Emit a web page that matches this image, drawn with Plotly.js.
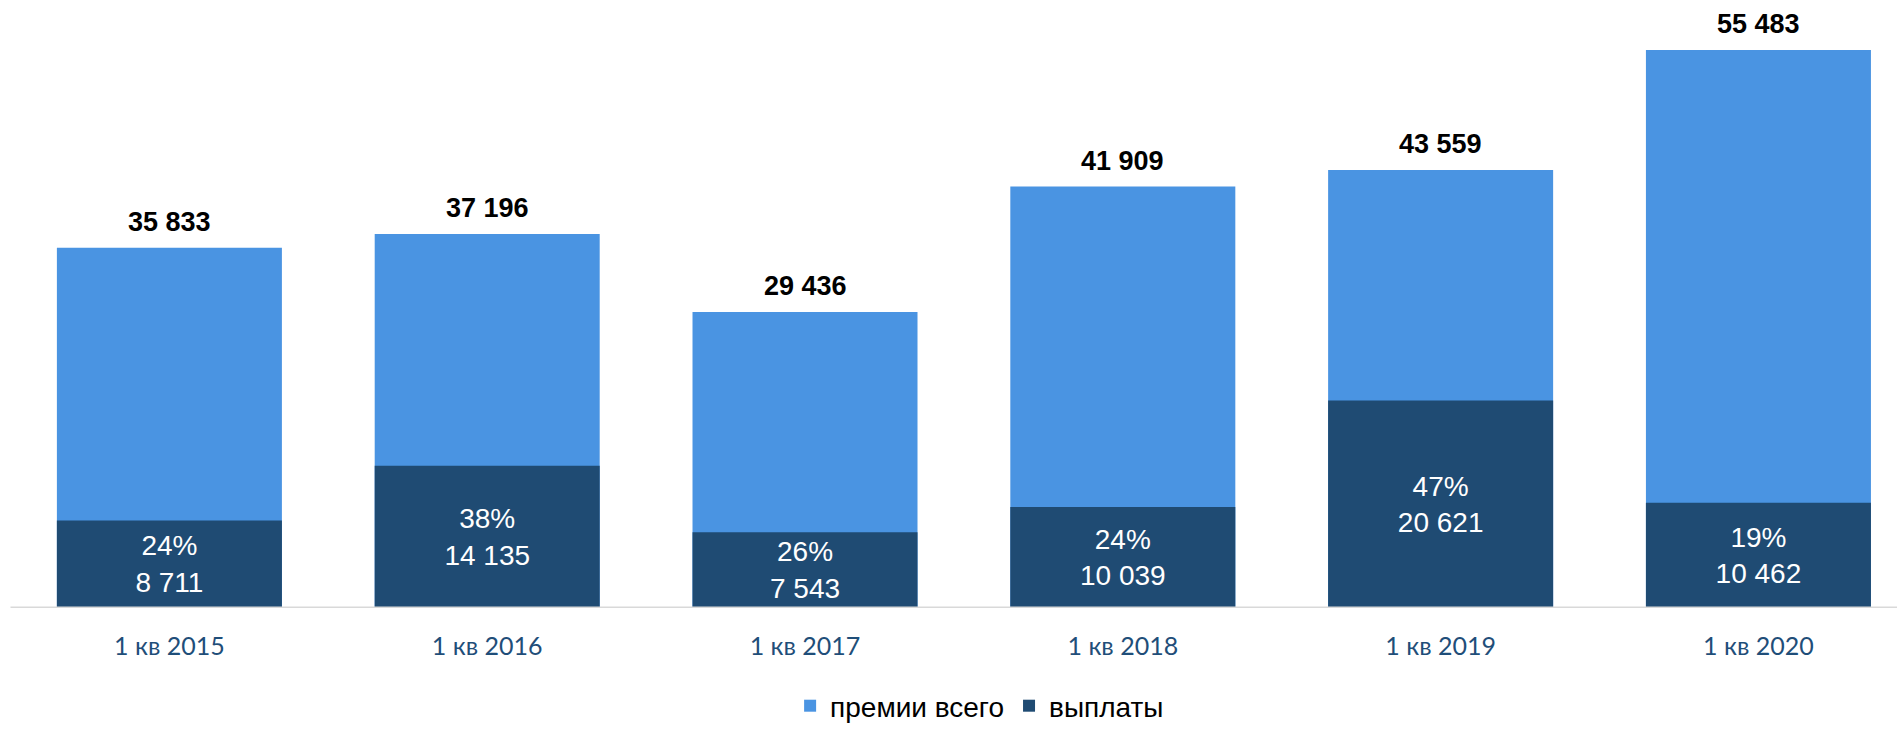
<!DOCTYPE html>
<html>
<head>
<meta charset="utf-8">
<script src="https://cdn.plot.ly/plotly-3.0.1.min.js"></script>
<style>html,body{margin:0;padding:0;background:#fff;}#chart{width:1897px;height:731px;}</style>
</head>
<body>
<div id="chart"></div>
<script>
const categories = ["1 кв 2015", "1 кв 2016", "1 кв 2017", "1 кв 2018", "1 кв 2019", "1 кв 2020"];
const premiums = [35833, 37196, 29436, 41909, 43559, 55483];
const payouts = [8711, 14135, 7543, 10039, 20621, 10462];
const seriesNames = ["премии всего", "выплаты"];

function fmt(v) { return String(v).replace(/\B(?=(\d{3})+(?!\d))/g, "\u00a0"); }
const payoutText = payouts.map((p, i) => Math.round(p / premiums[i] * 100) + "%<br>" + fmt(p));

const traces = [
  {
    type: "bar", name: seriesNames[0], x: categories, y: premiums,
    marker: { color: "#4A94E2" }, hoverinfo: "skip"
  },
  {
    type: "bar", name: seriesNames[1], x: categories, y: payouts,
    marker: { color: "#1F4B73" }, hoverinfo: "skip",
    text: payoutText, textposition: "inside", insidetextanchor: "middle",
    textangle: 0, constraintext: "none",
    textfont: { family: "Liberation Sans, Arial, sans-serif", size: 28, color: "#ffffff" }
  }
];

const annotations = categories.map((c, i) => ({
  x: c, y: premiums[i], xref: "x", yref: "y",
  text: "<b>" + fmt(premiums[i]) + "</b>", showarrow: false,
  yanchor: "middle", yshift: 26,
  font: { family: "Liberation Sans, Arial, sans-serif", size: 27, color: "#000000" }
}));

const layout = {
  width: 1897, height: 731,
  margin: { l: 0, r: 0, t: 20, b: 123, pad: 0 },
  paper_bgcolor: "#ffffff", plot_bgcolor: "#ffffff",
  barmode: "overlay", bargap: 0.292,
  xaxis: {
    type: "category", range: [-0.533, 5.436],
    showgrid: false, zeroline: false, showline: false,
    ticks: "outside", ticklen: 16, tickcolor: "rgba(0,0,0,0)",
    tickfont: { family: "Lato, sans-serif", size: 25, color: "#1F4E79" },
    fixedrange: true
  },
  yaxis: {
    range: [0, 58467], visible: false, showgrid: false, zeroline: false, fixedrange: true
  },
  shapes: [{
    type: "line", xref: "x", yref: "y", x0: -0.5, x1: 5.6, y0: 0, y1: 0,
    line: { color: "#D9D9D9", width: 3 }, layer: "above"
  }],
  annotations: annotations,
  showlegend: true,
  legend: {
    orientation: "h", x: 0.5164, xanchor: "center", y: -0.0068, yanchor: "bottom",
    yref: "container", traceorder: "normal",
    font: { family: "Liberation Sans, Arial, sans-serif", size: 28, color: "#000000" },
    itemsizing: "constant"
  },
  font: { family: "Liberation Sans, Arial, sans-serif" }
};

Plotly.newPlot("chart", traces, layout, { displayModeBar: false, staticPlot: true });
</script>
</body>
</html>
